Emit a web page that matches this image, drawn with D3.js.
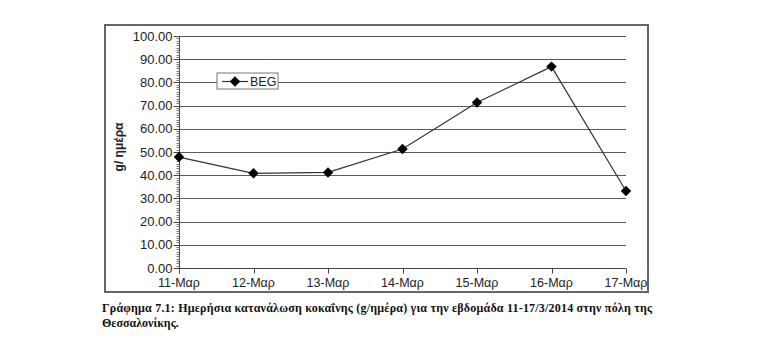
<!DOCTYPE html>
<html>
<head>
<meta charset="utf-8">
<script src="https://d3js.org/d3.v7.min.js"></script>
<style>
  body { margin: 0; background: #fff; }
  svg text { font-family: "Liberation Sans", Arial, sans-serif; }
</style>
</head>
<body>
<svg id="chart" width="768" height="359"></svg>
<script>

var days = ["11-Μαρ", "12-Μαρ", "13-Μαρ", "14-Μαρ", "15-Μαρ", "16-Μαρ", "17-Μαρ"];
var beg = [47.8, 40.8, 41.2, 51.3, 71.3, 86.8, 33.2];
var yTicks = [0, 10, 20, 30, 40, 50, 60, 70, 80, 90, 100];
var seriesName = "BEG";
var yLabel = "g/ ημέρα";
var captionLines = [
  "Γράφημα 7.1: Ημερήσια κατανάλωση κοκαΐνης (g/ημέρα) για την εβδομάδα 11-17/3/2014 στην πόλη της",
  "Θεσσαλονίκης."
];

var svg = d3.select('#chart');

var plotLeft = 179, plotRight = 626, plotTop = 36, plotBottom = 268;

var x = d3.scalePoint().domain(days).range([plotLeft, plotRight]);
var y = d3.scaleLinear().domain([0, 100]).range([plotBottom, plotTop]);

// outer frame
svg.append('rect')
  .attr('x', 105).attr('y', 25).attr('width', 543).attr('height', 267)
  .style('fill', 'none').style('stroke', '#666').style('stroke-width', 2);

// grid lines
svg.append('g').selectAll('line')
  .data(yTicks.filter(function(d){ return d > 0; }))
  .enter().append('line')
    .attr('x1', plotLeft).attr('x2', plotRight)
    .attr('y1', function(d){ return Math.round(y(d)) + 0.5; })
    .attr('y2', function(d){ return Math.round(y(d)) + 0.5; })
    .style('stroke', '#5a5a5a').style('stroke-width', 1);

// y axis with minor ticks
var yAxis = svg.append('g').attr('transform', 'translate(' + (plotLeft + 0.5) + ',0)');
yAxis.append('line').attr('y1', plotTop).attr('y2', plotBottom).style('stroke', '#444');
yAxis.selectAll('.minor')
  .data(d3.range(0, 101, 1))
  .enter().append('line')
    .attr('x1', -3).attr('x2', 0)
    .attr('y1', function(d){ return Math.round(y(d)) + 0.5; })
    .attr('y2', function(d){ return Math.round(y(d)) + 0.5; })
    .style('stroke', '#777');
yAxis.selectAll('.major')
  .data(yTicks)
  .enter().append('line')
    .attr('x1', -6).attr('x2', 0)
    .attr('y1', function(d){ return Math.round(y(d)) + 0.5; })
    .attr('y2', function(d){ return Math.round(y(d)) + 0.5; })
    .style('stroke', '#444');
yAxis.selectAll('text')
  .data(yTicks)
  .enter().append('text')
    .attr('x', -7)
    .attr('y', function(d){ return y(d); })
    .attr('dy', '0.35em')
    .attr('text-anchor', 'end')
    .style('font-size', '13px').style('fill', '#222')
    .text(function(d){ return d.toFixed(2); });

// x axis
var xAxis = svg.append('g').attr('transform', 'translate(0,' + (plotBottom + 0.5) + ')');
xAxis.append('line').attr('x1', plotLeft).attr('x2', plotRight).style('stroke', '#444');
xAxis.selectAll('.tick')
  .data(days)
  .enter().append('line')
    .attr('x1', function(d){ return Math.round(x(d)) + 0.5; })
    .attr('x2', function(d){ return Math.round(x(d)) + 0.5; })
    .attr('y1', 0).attr('y2', 5)
    .style('stroke', '#444');
xAxis.selectAll('text')
  .data(days)
  .enter().append('text')
    .attr('x', function(d){ return x(d); })
    .attr('y', 18.5)
    .attr('text-anchor', 'middle')
    .style('font-size', '12.5px').style('fill', '#222')
    .text(function(d){ return d; });

// y label
svg.append('text')
  .attr('transform', 'translate(123,147) rotate(-90)')
  .attr('text-anchor', 'middle')
  .style('font-size', '12px').style('font-weight', 'bold').style('fill', '#222')
  .text(yLabel);

// series line
var line = d3.line()
  .x(function(d, i){ return x(days[i]); })
  .y(function(d){ return y(d); });

svg.append('path')
  .datum(beg)
  .attr('d', line)
  .style('fill', 'none').style('stroke', '#333').style('stroke-width', 1.2);

var diamond = d3.symbol().type(d3.symbolDiamond2).size(70);

svg.append('g').selectAll('path')
  .data(beg)
  .enter().append('path')
    .attr('d', diamond)
    .attr('transform', function(d, i){ return 'translate(' + x(days[i]) + ',' + y(d) + ')'; })
    .style('fill', '#000');

// legend
var legend = svg.append('g').attr('transform', 'translate(217,73)');
legend.append('rect')
  .attr('width', 61).attr('height', 16)
  .style('fill', '#fff').style('stroke', '#777').style('stroke-width', 1);
legend.append('line')
  .attr('x1', 5).attr('x2', 31).attr('y1', 8.5).attr('y2', 8.5)
  .style('stroke', '#333').style('stroke-width', 1.2);
legend.append('path')
  .attr('d', diamond)
  .attr('transform', 'translate(18,8.5)')
  .style('fill', '#000');
legend.append('text')
  .attr('x', 33).attr('y', 8.5).attr('dy', '0.35em')
  .style('font-size', '12.5px').style('fill', '#222')
  .text(seriesName);

// caption
svg.append('g').selectAll('text')
  .data(captionLines)
  .enter().append('text')
    .attr('x', 102)
    .attr('y', function(d, i){ return 312 + i * 15; })
    .attr('textLength', function(d, i){ return i === 0 ? 550 : null; })
    .attr('lengthAdjust', 'spacing')
    .style('font-family', '"Liberation Serif", "Times New Roman", serif')
    .style('font-size', '12px').style('font-weight', 'bold').style('fill', '#111')
    .text(function(d){ return d; });

</script>
</body>
</html>
